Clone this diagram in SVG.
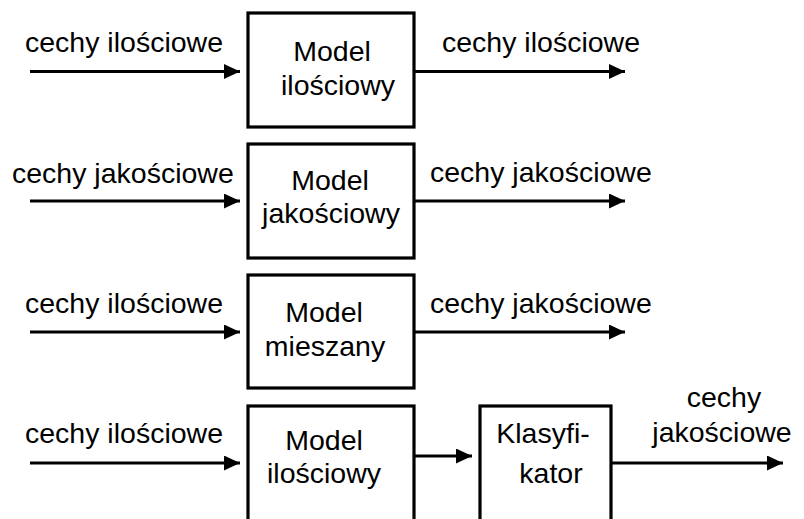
<svg xmlns="http://www.w3.org/2000/svg" width="804" height="519" viewBox="0 0 804 519">
  <defs>
    <marker id="arrow" viewBox="0 0 16 15" refX="16" refY="7.5" markerWidth="16" markerHeight="15" markerUnits="userSpaceOnUse" orient="auto">
      <path d="M0,0 L16,7.5 L0,15 Z" fill="#000"/>
    </marker>
    <style>
      .box { fill: #fff; stroke: #000; stroke-width: 3.2; }
      .wire { fill: none; stroke: #000; stroke-width: 3.2; }
      text { font-family: "Liberation Sans", Arial, sans-serif; font-size: 28.5px; fill: #000; }
      .mid { text-anchor: middle; }
    </style>
  </defs>

  <rect width="804" height="519" fill="#fff"/>

  <!-- connectors: lines end short of the tip; the marker supplies the head -->
  <g id="connectors">
    <path class="wire" d="M30,71.5 H240" marker-end="url(#arrow)"/>
    <path class="wire" d="M414,71.5 H625" marker-end="url(#arrow)"/>
    <path class="wire" d="M30,201 H240" marker-end="url(#arrow)"/>
    <path class="wire" d="M414,201 H625" marker-end="url(#arrow)"/>
    <path class="wire" d="M30,332 H240" marker-end="url(#arrow)"/>
    <path class="wire" d="M414,332 H625" marker-end="url(#arrow)"/>
    <path class="wire" d="M30,463 H240" marker-end="url(#arrow)"/>
    <path class="wire" d="M414,456 H472" marker-end="url(#arrow)"/>
    <path class="wire" d="M611,463 H783" marker-end="url(#arrow)"/>
  </g>

  <!-- signal labels -->
  <g id="labels">
    <text x="25" y="52">cechy ilościowe</text>
    <text x="442" y="52">cechy ilościowe</text>
    <text x="12" y="183">cechy jakościowe</text>
    <text x="430" y="182">cechy jakościowe</text>
    <text x="25" y="313">cechy ilościowe</text>
    <text x="430" y="313">cechy jakościowe</text>
    <text x="25" y="443">cechy ilościowe</text>
    <text class="mid" x="724" y="407">cechy</text>
    <text class="mid" x="722" y="442">jakościowe</text>
  </g>

  <g id="model-ilosciowy-1">
    <rect class="box" x="248" y="13" width="166" height="114"/>
    <text class="mid" x="332" y="61">Model</text>
    <text class="mid" x="338" y="95">ilościowy</text>
  </g>

  <g id="model-jakosciowy">
    <rect class="box" x="248" y="144" width="166" height="114"/>
    <text class="mid" x="330" y="190">Model</text>
    <text class="mid" x="331" y="223">jakościowy</text>
  </g>

  <g id="model-mieszany">
    <rect class="box" x="248" y="275" width="166" height="113"/>
    <text class="mid" x="324" y="322">Model</text>
    <text class="mid" x="325" y="356">mieszany</text>
  </g>

  <g id="model-ilosciowy-2">
    <rect class="box" x="248" y="406" width="166" height="130"/>
    <text class="mid" x="324" y="450">Model</text>
    <text class="mid" x="324" y="483">ilościowy</text>
  </g>

  <g id="klasyfikator">
    <rect class="box" x="480" y="406" width="131" height="130"/>
    <text class="mid" x="543" y="443">Klasyfi-</text>
    <text class="mid" x="551" y="483">kator</text>
  </g>
</svg>
